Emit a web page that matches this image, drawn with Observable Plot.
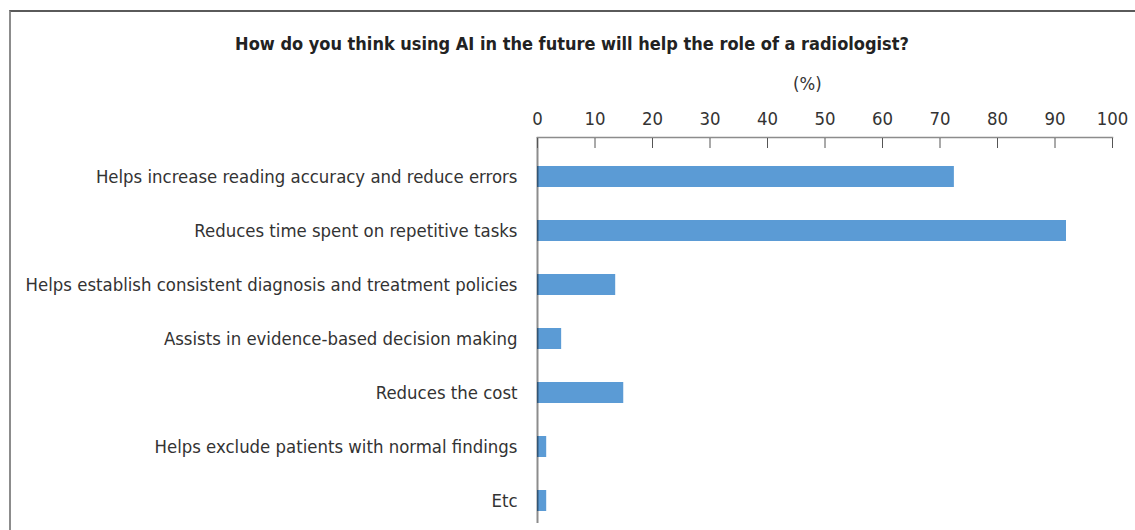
<!DOCTYPE html>
<html>
<head>
<meta charset="utf-8">
<script src="https://cdn.jsdelivr.net/npm/d3@7"></script>
<script src="https://cdn.jsdelivr.net/npm/@observablehq/plot@0.6"></script>
<style>
  html, body { margin: 0; padding: 0; background: #fff; }
  #wrap { position: relative; width: 1135px; height: 530px; overflow: hidden;
          font-family: "DejaVu Sans Condensed", "DejaVu Sans", sans-serif; font-stretch: condensed; }
  #frame { position: absolute; left: 9px; top: 10px; right: -5px; bottom: -5px;
           border-top: 2px solid #5a5a5a; border-left: 2px solid #8c8c8c; pointer-events: none; }
  #head { position: relative; height: 100px; }
  #title { position: absolute; left: 9px; width: 1126px; top: 33px; text-align: center;
           font-weight: bold; font-size: 18px; color: #222; line-height: 22px; }
  #unit { position: absolute; left: 793px; top: 73px; font-size: 18.4px; color: #333; line-height: 22px; }
  #chart svg { display: block; }
</style>
</head>
<body>
<div id="wrap">
  <div id="frame"></div>
  <div id="head">
    <div id="title">How do you think using AI in the future will help the role of a radiologist?</div>
    <div id="unit">(%)</div>
  </div>
  <div id="chart"></div>
</div>
<script>
const categories = [
  "Helps increase reading accuracy and reduce errors",
  "Reduces time spent on repetitive tasks",
  "Helps establish consistent diagnosis and treatment policies",
  "Assists in evidence-based decision making",
  "Reduces the cost",
  "Helps exclude patients with normal findings",
  "Etc"
];
const values = [72.5, 92.0, 13.6, 4.2, 15.0, 1.6, 1.6];
const xTicks = [0, 10, 20, 30, 40, 50, 60, 70, 80, 90, 100];

const data = categories.map((c, i) => ({category: c, value: values[i]}));

const chart = Plot.plot({
  width: 1135,
  height: 430,
  marginTop: 37,
  marginBottom: 7,
  marginLeft: 537,
  marginRight: 23,
  style: {fontFamily: '"DejaVu Sans Condensed", "DejaVu Sans", sans-serif', fontSize: "18.4px", color: "#333", fontStretch: "condensed"},
  x: {domain: [0, 100]},
  y: {domain: categories, paddingInner: 0.62, paddingOuter: 0.31, insetTop: 9.3, insetBottom: -7.6},
  marks: [
    Plot.barX(data, {x: "value", y: "category", fill: "#5b9bd5"}),
    Plot.ruleX([0], {stroke: "#000", strokeOpacity: 0.45, strokeWidth: 2}),
    Plot.frame({anchor: "top", stroke: "#8c8c8c", strokeWidth: 1.5}),
    Plot.axisX({anchor: "top", ticks: xTicks, tickSize: 0, tickPadding: 13, label: null}),
    Plot.axisX({anchor: "top", ticks: xTicks, tickSize: -10, text: null, label: null, stroke: "#555"}),
    Plot.axisY({anchor: "left", tickSize: 0, tickPadding: 20, label: null, fill: "#333"})
  ]
});
document.getElementById("chart").appendChild(chart);
</script>
</body>
</html>
